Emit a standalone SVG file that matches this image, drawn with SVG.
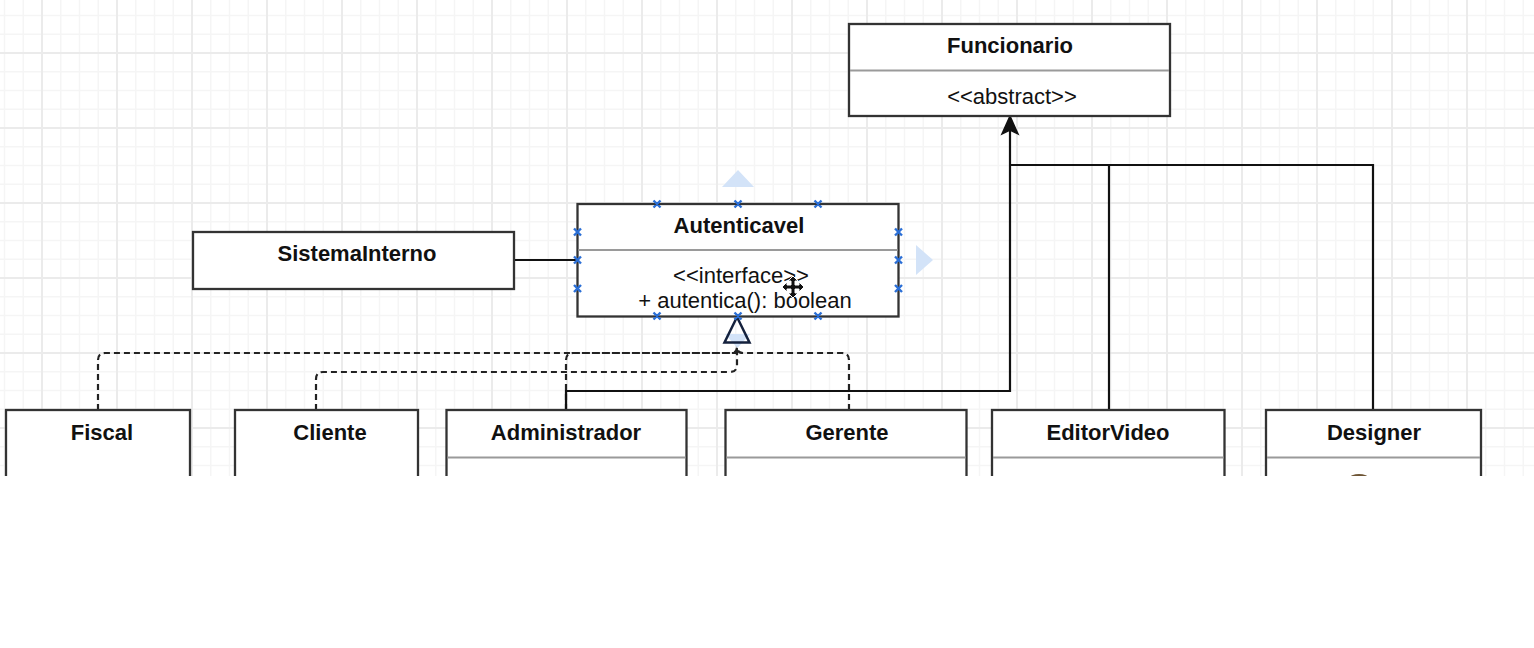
<svg xmlns="http://www.w3.org/2000/svg" width="1534" height="648" viewBox="0 0 1534 648">
<style>
.box{fill:#ffffff;stroke:#333333;stroke-width:2.3}
.div{stroke:#9a9a9a;stroke-width:2;fill:none}
.t{font-family:"Liberation Sans",Arial,Helvetica,sans-serif;font-size:22px;font-weight:bold;fill:#111111;text-anchor:middle}
.r{font-family:"Liberation Sans",Arial,Helvetica,sans-serif;font-size:22px;fill:#111111;text-anchor:middle}
.solid{fill:none;stroke:#111111;stroke-width:2.2}
.dash{fill:none;stroke:#222222;stroke-width:2.2;stroke-dasharray:6 4}
.mk{stroke:#2b6fd6;stroke-width:2.4;fill:none}
.hover{fill:#d3e3f8}
</style>
<defs>
<pattern id="grid" width="75" height="75" patternUnits="userSpaceOnUse" x="41" y="52">
<path d="M19.75 0V75M38.5 0V75M57.25 0V75M0 19.75H75M0 38.5H75M0 57.25H75" stroke="#f5f5f5" stroke-width="1.5"/>
<path d="M1 0V75M0 1H75" stroke="#ebebeb" stroke-width="2"/>
</pattern>
</defs>
<rect x="0" y="0" width="1534" height="648" fill="#ffffff"/>
<rect x="0" y="0" width="1534" height="476" fill="url(#grid)"/>

<g id="connectors">
<path class="solid" d="M514 260H577"/>
<path class="dash" d="M98 410V360Q98 353 105 353H731Q737 353 737 347V343"/>
<path class="dash" d="M849 410V360Q849 353 842 353H743Q737 353 737 347V343"/>
<path class="dash" d="M316 410V379Q316 372 323 372H730Q737 372 737 365V343"/>
<path class="dash" d="M566 410V360Q566 353 573 353H737"/>
<path class="solid" d="M566 410V391H1010V130"/>
<path class="solid" d="M1010 165H1373V410"/>
<path class="solid" d="M1109 165V410"/>
<path d="M1010 116L1018 134L1010 130L1002 134Z" fill="#111111" stroke="#111111" stroke-width="1.5" stroke-linejoin="miter"/>
<path class="hover" d="M725 334H750L737.5 348Z"/>
<path d="M737 317L749.5 342.5H724.5Z" fill="none" stroke="#14213d" stroke-width="2.5" stroke-linejoin="miter"/>
</g>

<g id="Funcionario">
<rect class="box" x="849" y="24" width="321" height="92"/>
<path class="div" d="M850 70.5H1169"/>
<text class="t" x="1010" y="53">Funcionario</text>
<text class="r" x="1012" y="104">&lt;&lt;abstract&gt;&gt;</text>
</g>

<g id="Autenticavel">
<rect class="box" x="577.5" y="204" width="321" height="112.5"/>
<path class="div" d="M578.5 250H897.5"/>
<text class="t" x="739" y="233">Autenticavel</text>
<text class="r" x="741" y="283">&lt;&lt;interface&gt;&gt;</text>
<text class="r" x="745" y="308">+ autentica(): boolean</text>
</g>

<g id="selection">
<path class="mk" d="M653.5 200.5L660.5 207.5M660.5 200.5L653.5 207.5M734.5 200.5L741.5 207.5M741.5 200.5L734.5 207.5M814.5 200.5L821.5 207.5M821.5 200.5L814.5 207.5"/>
<path class="mk" d="M653.5 312.5L660.5 319.5M660.5 312.5L653.5 319.5M734.5 312.5L741.5 319.5M741.5 312.5L734.5 319.5M814.5 312.5L821.5 319.5M821.5 312.5L814.5 319.5"/>
<path class="mk" d="M574 228.5L581 235.5M581 228.5L574 235.5M574 256.5L581 263.5M581 256.5L574 263.5M574 285L581 292M581 285L574 292"/>
<path class="mk" d="M895 228.5L902 235.5M902 228.5L895 235.5M895 256.5L902 263.5M902 256.5L895 263.5M895 285L902 292M902 285L895 292"/>
<path class="hover" d="M738 170L754 187H722Z"/>
<path class="hover" d="M916 245L933 260L916 275Z"/>
<path d="M793 276L798 281H795V285H799V282L804 287L799 292V289H795V293H798L793 298L788 293H791V289H787V292L782 287L787 282V285H791V281H788Z" fill="#111111" stroke="#ffffff" stroke-width="1"/>
</g>

<g id="SistemaInterno">
<rect class="box" x="193" y="232" width="321" height="57"/>
<text class="t" x="357" y="261">SistemaInterno</text>
</g>

<g id="Fiscal">
<rect class="box" x="6" y="410" width="184" height="90"/>
<text class="t" x="102" y="440">Fiscal</text>
</g>

<g id="Cliente">
<rect class="box" x="235" y="410" width="183" height="90"/>
<text class="t" x="330" y="440">Cliente</text>
</g>

<g id="Administrador">
<rect class="box" x="446.5" y="410" width="240" height="90"/>
<path class="div" d="M447.5 457.5H685.5"/>
<text class="t" x="566" y="440">Administrador</text>
</g>

<g id="Gerente">
<rect class="box" x="725.5" y="410" width="241" height="90"/>
<path class="div" d="M726.5 457.5H965.5"/>
<text class="t" x="847" y="440">Gerente</text>
</g>

<g id="EditorVideo">
<rect class="box" x="992" y="410" width="232.5" height="90"/>
<path class="div" d="M993 457.5H1223.5"/>
<text class="t" x="1108" y="440">EditorVideo</text>
</g>

<g id="Designer">
<rect class="box" x="1266" y="410" width="215" height="90"/>
<path class="div" d="M1267 457.5H1480"/>
<text class="t" x="1374" y="440">Designer</text>
<circle cx="1359" cy="492" r="18" fill="#6e5535"/>
</g>

<rect x="0" y="476" width="1534" height="172" fill="#ffffff"/>
</svg>
